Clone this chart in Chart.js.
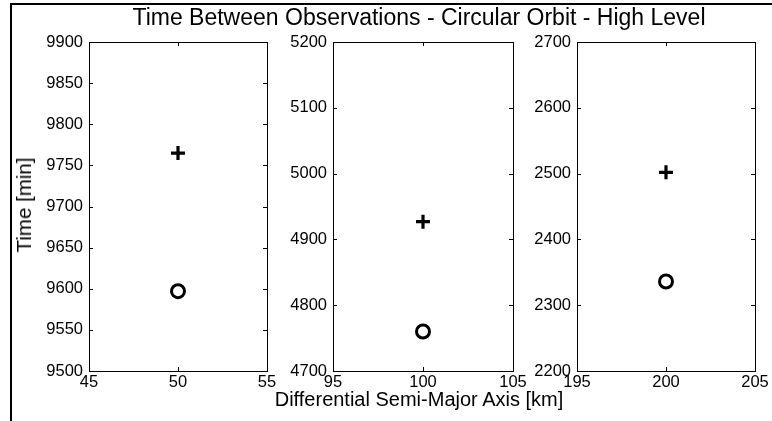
<!DOCTYPE html>
<html>
<head>
<meta charset="utf-8">
<script src="https://cdn.jsdelivr.net/npm/chart.js@4"></script>
<style>
  html, body { margin:0; padding:0; background:#fff; overflow:hidden; width:772px; height:421px; }
  #wrap { position:relative; width:772px; height:421px; overflow:hidden; font-family:"Liberation Sans", Arial, Helvetica, sans-serif; }
  .cv { position:absolute; left:0; top:0; width:772px; height:421px; }
  #hline { position:absolute; left:10px; top:3px; width:762px; height:2px; background:#000; }
  #vline { position:absolute; left:10px; top:3px; width:2px; height:418px; background:#000; }
  #title { position:absolute; left:0; width:700px; margin-left:69px; top:4px; text-align:center; font-size:23px; color:#000; white-space:nowrap; }
  #xlabel { position:absolute; left:0; width:700px; margin-left:69px; top:388px; text-align:center; font-size:20px; color:#000; white-space:nowrap; }
  #ylabel { position:absolute; left:24px; top:205px; transform:translate(-50%,-50%) rotate(-90deg); font-size:20.5px; color:#000; white-space:nowrap; }
</style>
</head>
<body>
<div id="wrap">
  <div id="hline"></div>
  <div id="vline"></div>
  <canvas id="c0" class="cv" width="772" height="421"></canvas>
  <canvas id="c1" class="cv" width="772" height="421"></canvas>
  <canvas id="c2" class="cv" width="772" height="421"></canvas>
  <div id="title">Time Between Observations - Circular Orbit - High Level</div>
  <div id="xlabel">Differential Semi-Major Axis [km]</div>
  <div id="ylabel">Time [min]</div>
</div>
<script>
// ---- data ----
const xValues = [50, 100, 200];
const plusValues = [9765, 4927, 2502];
const circleValues = [9597, 4760, 2336];
const xTickLabels = [[45, 50, 55], [95, 100, 105], [195, 200, 205]];
const yTickLabels = [
  [9500, 9550, 9600, 9650, 9700, 9750, 9800, 9850, 9900],
  [4700, 4800, 4900, 5000, 5100, 5200],
  [2200, 2300, 2400, 2500, 2600, 2700]
];

// ---- layout ----
const W = 772, H = 421;
const areaLeft = [89, 333, 577];
const areaRight = [267, 513, 755];
const areaTop = 42, areaBottom = 371;
const yAxisW = 50, xAxisH = 30;
const FONT = "'Liberation Sans', Arial, Helvetica, sans-serif";

const boxPlugin = {
  id: 'boxTicks',
  afterDraw(chart) {
    const ctx = chart.ctx, a = chart.chartArea;
    const xs = chart.scales.x, ys = chart.scales.y;
    ctx.save();
    ctx.strokeStyle = '#000';
    ctx.lineWidth = 1;
    ctx.strokeRect(Math.round(a.left) + 0.5, Math.round(a.top) + 0.5,
                   Math.round(a.right - a.left), Math.round(a.bottom - a.top));
    const L = 4;
    ctx.beginPath();
    ys.ticks.forEach(t => {
      const y = Math.round(ys.getPixelForValue(t.value)) + 0.5;
      ctx.moveTo(a.left, y); ctx.lineTo(a.left + L, y);
      ctx.moveTo(a.right, y); ctx.lineTo(a.right - L, y);
    });
    xs.ticks.forEach(t => {
      const x = Math.round(xs.getPixelForValue(t.value)) + 0.5;
      ctx.moveTo(x, a.bottom); ctx.lineTo(x, a.bottom - L);
      ctx.moveTo(x, a.top); ctx.lineTo(x, a.top + L);
    });
    ctx.stroke();
    ctx.restore();
  }
};

for (let i = 0; i < 3; i++) {
  const xt = xTickLabels[i], yt = yTickLabels[i];
  new Chart(document.getElementById('c' + i), {
    type: 'scatter',
    data: {
      datasets: [
        {
          data: [{ x: xValues[i], y: plusValues[i] }],
          pointStyle: 'cross', pointRadius: 7, pointBorderWidth: 3.2,
          borderColor: '#000', backgroundColor: '#000'
        },
        {
          data: [{ x: xValues[i], y: circleValues[i] }],
          pointStyle: 'circle', pointRadius: 6.5, pointBorderWidth: 3,
          borderColor: '#000', backgroundColor: 'rgba(255,255,255,0)'
        }
      ]
    },
    options: {
      responsive: false, animation: false, events: [],
      layout: {
        padding: {
          left: areaLeft[i] - yAxisW,
          right: W - areaRight[i],
          top: areaTop,
          bottom: H - areaBottom - xAxisH
        }
      },
      plugins: { legend: { display: false }, tooltip: { enabled: false }, title: { display: false } },
      scales: {
        x: {
          type: 'linear', min: xt[0], max: xt[xt.length - 1],
          afterBuildTicks: s => { s.ticks = xt.map(v => ({ value: v })); },
          afterFit: s => { s.height = xAxisH; },
          grid: { display: true, drawOnChartArea: false, drawTicks: false },
          border: { display: false },
          ticks: { color: '#000', padding: 2, maxRotation: 0, font: { family: FONT, size: 16.5 },
                   callback: v => String(v) }
        },
        y: {
          type: 'linear', min: yt[0], max: yt[yt.length - 1],
          afterBuildTicks: s => { s.ticks = yt.map(v => ({ value: v })); },
          afterFit: s => { s.width = yAxisW; },
          grid: { display: true, drawOnChartArea: false, drawTicks: false },
          border: { display: false },
          ticks: { color: '#000', padding: 6, font: { family: FONT, size: 16.5 },
                   callback: v => String(v) }
        }
      }
    },
    plugins: [boxPlugin]
  });
}
</script>
</body>
</html>
